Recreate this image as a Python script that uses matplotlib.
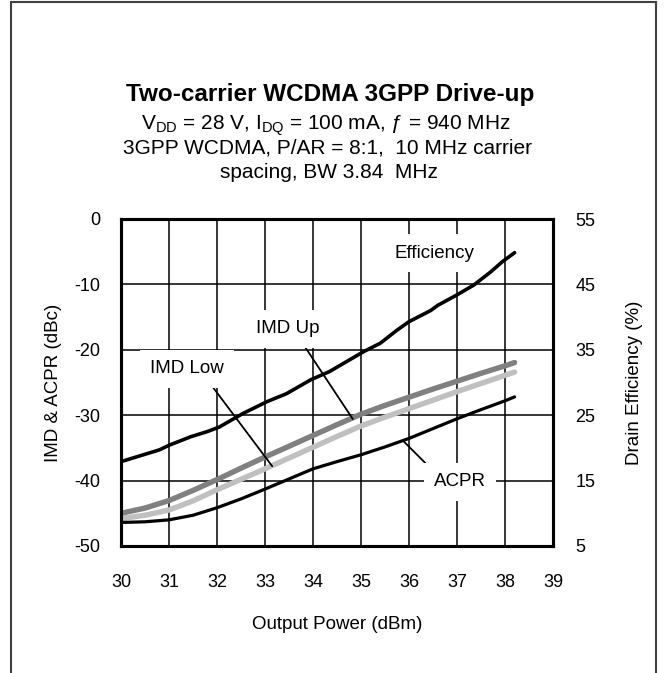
import matplotlib
matplotlib.use('Agg')
import matplotlib.pyplot as plt
from matplotlib.patches import Rectangle

plt.rcParams['font.family'] = ['Liberation Sans', 'DejaVu Sans']
plt.rcParams['mathtext.fontset'] = 'custom'
plt.rcParams['mathtext.rm'] = 'Liberation Sans'
plt.rcParams['mathtext.it'] = 'Liberation Sans:italic'
plt.rcParams['axes.unicode_minus'] = False

# output power (dBm)
pout = [30, 30.5, 31, 31.5, 32, 32.5, 33, 33.5, 34, 34.5, 35, 35.5, 36, 36.5, 37, 37.5, 38, 38.2]
imd_up = [-45.0, -44.2, -43.05, -41.5, -39.85, -38.1, -36.4, -34.75, -33.1, -31.45, -29.85, -28.5, -27.25,
          -26.0, -24.8, -23.6, -22.45, -21.95]
imd_low = [-45.8, -45.3, -44.5, -43.1, -41.4, -39.8, -38.2, -36.55, -34.9, -33.25, -31.65, -30.3, -29.0,
           -27.7, -26.4, -25.15, -23.9, -23.4]
acpr = [-46.4, -46.3, -46.0, -45.3, -44.15, -42.8, -41.3, -39.75, -38.2, -37.1, -36.05, -34.85, -33.55,
        -32.05, -30.55, -29.15, -27.8, -27.2]

# drain efficiency (%) on right axis
eff_x = [30, 30.8, 31.0, 31.45, 31.8, 32.05, 32.55, 33.05, 33.45, 33.95, 34.35, 34.7, 35.05, 35.4,
         35.75, 36.0, 36.45, 36.6, 37.0, 37.35, 37.7, 37.95, 38.2]
eff = [17.9, 19.7, 20.4, 21.7, 22.5, 23.2, 25.3, 27.1, 28.3, 30.4, 31.7, 33.2, 34.7, 36.0,
       38.0, 39.3, 41.0, 41.8, 43.4, 44.9, 46.9, 48.5, 49.85]

x_ticks = list(range(30, 40))
left_ticks = [-50, -40, -30, -20, -10, 0]
right_ticks = [5, 15, 25, 35, 45, 55]

fig = plt.figure(figsize=(6.66, 6.73), dpi=100)
ax = fig.add_axes([121/666, 1 - 546/673, 432/666, 327/673])
ax2 = ax.twinx()

ax.plot(pout, imd_low, color='#c0c0c0', lw=3.9, zorder=3, solid_capstyle='round')
ax.plot(pout, imd_up, color='#808080', lw=3.9, zorder=3, solid_capstyle='round')
ax.plot(pout, acpr, color='black', lw=2.3, zorder=4, solid_capstyle='round')
ax2.plot(eff_x, eff, color='black', lw=2.6, solid_capstyle='round')

ax.set_xlim(30, 39)
ax.set_ylim(-50, 0)
ax2.set_ylim(5, 55)
ax.set_xticks(x_ticks)
ax.set_yticks(left_ticks)
ax2.set_yticks(right_ticks)
ax.grid(True, color='black', lw=1.1)
ax.set_axisbelow(True)

ax.tick_params(axis='x', length=0, pad=20, labelsize=13)
ax.tick_params(axis='y', length=0, pad=15, labelsize=13)
ax2.tick_params(axis='y', length=0, pad=16, labelsize=13)
for a in (ax, ax2):
    for s in a.spines.values():
        s.set_linewidth(2.2)

ax.set_xlabel('Output Power (dBm)', fontsize=13.5, labelpad=18)
ax.set_ylabel('IMD & ACPR (dBc)', fontsize=13.5, labelpad=9)
ax2.set_ylabel('Drain Efficiency (%)', fontsize=13.5, labelpad=22)

box = dict(boxstyle='square,pad=0.55', fc='white', ec='none')
line = dict(arrowstyle='-', color='black', lw=1.3, shrinkA=0, shrinkB=0)
ax.text(36.54, -5.2, 'Efficiency', fontsize=13.5, ha='center', va='center', bbox=box, zorder=5)
ax.annotate('IMD Up', xy=(34.83, -30.6), xytext=(33.48, -16.8), fontsize=13.5, ha='center', va='center',
            bbox=box, arrowprops=dict(line, relpos=(0.65, 0.1)), zorder=5)
ax.annotate('IMD Low', xy=(33.15, -37.8), xytext=(31.375, -22.9), fontsize=13.5, ha='center', va='center',
            bbox=box, arrowprops=dict(line, relpos=(0.75, 0.0)), zorder=5)
ax.annotate('ACPR', xy=(35.875, -33.9), xytext=(37.06, -40.2), fontsize=13.5, ha='center', va='center',
            bbox=box, arrowprops=dict(line, relpos=(0.1, 0.8)), zorder=5)

fig.text(0.496, 1 - 101/673, 'Two-carrier WCDMA 3GPP Drive-up', fontsize=17.5, fontweight='bold',
         ha='center', va='baseline')
fig.text(0.489, 1 - 130/673, r'V$_{\mathrm{DD}}$ = 28 V, I$_{\mathrm{DQ}}$ = 100 mA, ƒ = 940 MHz',
         fontsize=15, ha='center', va='baseline')
fig.text(0.491, 1 - 153.5/673, '3GPP WCDMA, P/AR = 8:1,  10 MHz carrier', fontsize=15,
         ha='center', va='baseline')
fig.text(0.494, 1 - 178.5/673, 'spacing, BW 3.84  MHz', fontsize=15, ha='center', va='baseline')

fig.patches.append(Rectangle((11/666, -0.1), 645/666, 1.1 - 2/673, transform=fig.transFigure,
                             fill=False, ec='#404040', lw=1.5))

fig.savefig('out.png', dpi=100)
